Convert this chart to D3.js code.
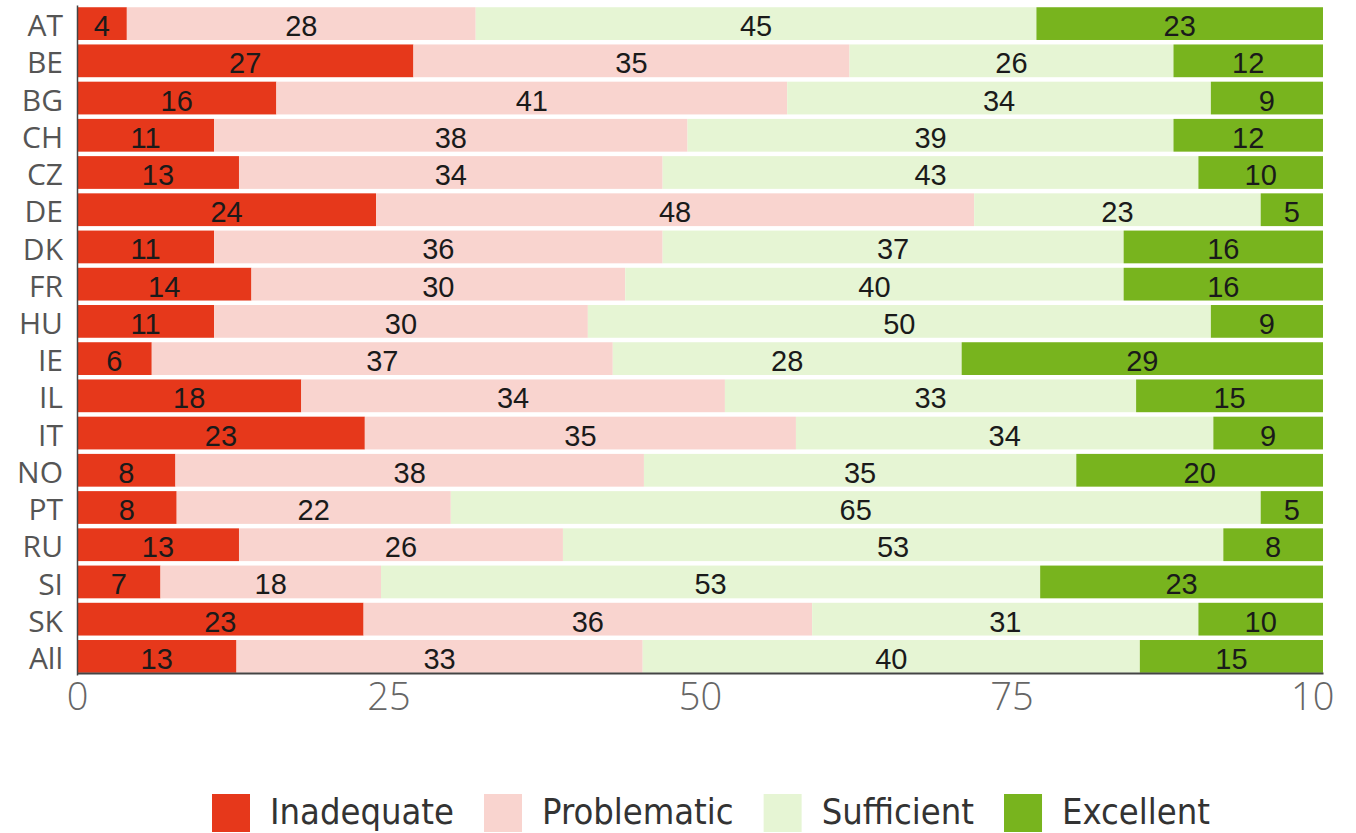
<!DOCTYPE html>
<html>
<head>
<meta charset="utf-8">
<script src="https://cdn.jsdelivr.net/npm/d3@7"></script>
<style>
  html, body { margin: 0; padding: 0; background: #fff; }
  svg { display: block; }
</style>
</head>
<body>
<script>
const categories = ["AT","BE","BG","CH","CZ","DE","DK","FR","HU","IE","IL","IT","NO","PT","RU","SI","SK","All"];
const seriesNames = ["Inadequate","Problematic","Sufficient","Excellent"];
const inadequate  = [4, 27, 16, 11, 13, 24, 11, 14, 11, 6, 18, 23.1, 7.9, 8, 13, 6.7, 23, 12.8];
const problematic = [28, 35, 41, 38, 34, 48, 36, 30, 30, 37, 34, 34.6, 37.6, 22, 26, 17.7, 36, 32.6];
const sufficient  = [45, 26, 34, 39, 43, 23, 37, 40, 50, 28, 33, 33.5, 34.7, 65, 53, 52.9, 31, 39.9];
const excellent   = [23, 12, 9, 12, 10, 5, 16, 16, 9, 29, 15, 8.8, 19.8, 5, 8, 22.7, 10, 14.7];
const xTicks = [0, 25, 50, 75, 100];
const colors = ["#e6381b", "#f9d4cf", "#e6f5d4", "#78b41e"];

const W = 1336, H = 833;
const svg = d3.select("body").append("svg").attr("width", W).attr("height", H);

const x = d3.scaleLinear().domain([0, 100]).range([77, 1323]);
const y = d3.scaleBand().domain(categories).range([5, 675]).paddingInner(0.12).paddingOuter(0.06);

const rows = categories.map((c, i) => ({
  cat: c,
  Inadequate: inadequate[i], Problematic: problematic[i],
  Sufficient: sufficient[i], Excellent: excellent[i]
}));
const stacked = d3.stack().keys(seriesNames)(rows);

const g = svg.append("g");
stacked.forEach((layer, li) => {
  const lg = g.append("g");
  lg.selectAll("rect").data(layer).join("rect")
    .attr("x", d => x(d[0]))
    .attr("y", d => y(d.data.cat))
    .attr("width", d => x(d[1]) - x(d[0]))
    .attr("height", y.bandwidth())
    .attr("fill", colors[li]);
  lg.selectAll("text").data(layer).join("text")
    .attr("x", d => (x(d[0]) + x(d[1])) / 2)
    .attr("y", d => y(d.data.cat) + y.bandwidth() / 2 + 12.5)
    .attr("text-anchor", "middle")
    .attr("font-family", "Liberation Sans, Arial, sans-serif")
    .attr("font-size", 29)
    .attr("fill", "#1a1a1a")
    .text(d => Math.round(d[1] - d[0]));
});

// Y axis (category labels)
const yAxis = svg.append("g").attr("transform", `translate(${x(0)},0)`)
  .call(d3.axisLeft(y).tickSize(0).tickPadding(14));
yAxis.select(".domain").attr("stroke", "#444").attr("stroke-width", 1.5);
yAxis.selectAll("text")
  .attr("font-family", "Open Sans, sans-serif")
  .attr("font-size", 30)
  .attr("fill", "#555")
  .attr("dy", "0.42em");

// X axis
const xAxis = svg.append("g").attr("transform", `translate(0,${673})`)
  .call(d3.axisBottom(x).tickValues(xTicks).tickSize(0).tickPadding(10).tickFormat(d3.format("d")));
xAxis.select(".domain").attr("stroke", "#444").attr("stroke-width", 2);
xAxis.selectAll("text")
  .attr("font-family", "Open Sans, sans-serif")
  .attr("font-weight", 300)
  .attr("font-size", 38)
  .attr("fill", "#666");

// Legend
const leg = svg.append("g");
let lx = 212;
seriesNames.forEach((name, i) => {
  leg.append("rect").attr("x", lx).attr("y", 794).attr("width", 38).attr("height", 38).attr("fill", colors[i]);
  const t = leg.append("text").attr("x", lx + 38 + 20).attr("y", 824)
    .attr("font-family", "DejaVu Sans Condensed, DejaVu Sans, sans-serif")
    .attr("font-stretch", "condensed")
    .attr("font-size", 36)
    .attr("fill", "#333")
    .text(name);
  lx += 38 + 20 + t.node().getComputedTextLength() + 30;
});
</script>
</body>
</html>
